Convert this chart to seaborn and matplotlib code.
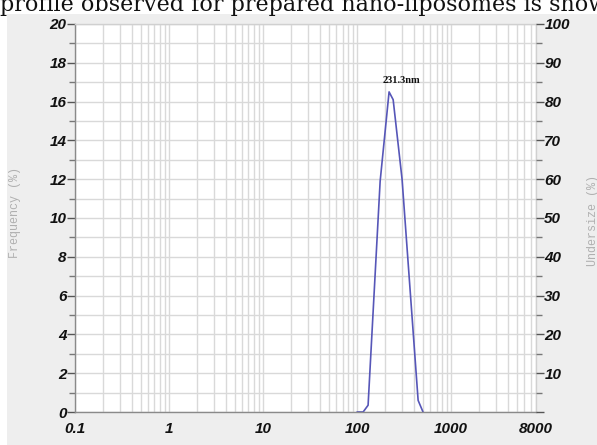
import matplotlib
matplotlib.use("Agg")
import matplotlib.pyplot as plt
from matplotlib.patches import Rectangle
from matplotlib.ticker import FixedLocator, LogLocator, NullFormatter
import pandas as pd
import seaborn as sns

# Size distribution (particle size in nm vs. frequency in %)
size_nm = [100, 116, 131, 176, 219, 242, 301, 446, 503]
frequency_pct = [0, 0, 0.35, 11.9, 16.5, 16.1, 12.0, 0.6, 0]

peak_label = "231.3nm"
peak_size = 231.3
peak_label_y = 17.1

x_major = [0.1, 1, 10, 100, 1000, 8000]
x_major_labels = ["0.1", "1", "10", "100", "1000", "8000"]
left_major = list(range(0, 21, 2))
left_minor = list(range(1, 20, 2))
right_major = list(range(0, 101, 10))
right_major_labels = [""] + [str(v) for v in range(10, 101, 10)]
right_minor = list(range(5, 100, 10))

caption = "profile observed for prepared nano-liposomes is shown"

sns.set_theme(style="white")
plt.rcParams["font.family"] = ["Liberation Sans", "DejaVu Sans"]

W, H = 597, 445
fig = plt.figure(figsize=(W / 100, H / 100), dpi=100)
fig.patch.set_facecolor("white")

# grey panel behind the instrument plot
fig.patches.append(Rectangle((7 / W, 0), 1 - 7 / W, 1 - 14 / H,
                             transform=fig.transFigure, facecolor="#eeeeee",
                             edgecolor="none", zorder=-5))

fig.text(0, 1 - 11 / H, caption, family="DejaVu Serif", fontsize=16,
         ha="left", va="baseline", color="#111111")

ax = fig.add_axes([75 / W, 1 - 412 / H, (536 - 75) / W, (412 - 24) / H])
ax.set_facecolor("white")

df = pd.DataFrame({"size": size_nm, "freq": frequency_pct})
sns.lineplot(data=df, x="size", y="freq", ax=ax, color="#5656b8",
             linewidth=1.2, sort=True, estimator=None)

ax.set_xscale("log")
ax.set_xlim(0.1, 8000)
ax.set_ylim(0, 20)
ax.set_xlabel("")
ax.set_ylabel("")

grid_col = "#d9d9d9"
ax.xaxis.set_major_locator(FixedLocator(x_major))
ax.xaxis.set_minor_locator(LogLocator(base=10, subs=range(2, 10), numticks=20))
ax.xaxis.set_minor_formatter(NullFormatter())
ax.set_xticklabels(x_major_labels, fontweight="bold", fontstyle="italic",
                   fontsize=11)
ax.yaxis.set_major_locator(FixedLocator(left_major))
ax.yaxis.set_minor_locator(FixedLocator(left_minor))
ax.set_yticklabels([str(v) for v in left_major], fontweight="bold",
                   fontstyle="italic", fontsize=11)

ax.grid(which="both", axis="both", color=grid_col, linewidth=1.0)
ax.set_axisbelow(True)

ax.tick_params(axis="x", which="major", direction="inout", length=8,
               color="#555555", width=1, pad=3, labelcolor="#111111")
ax.tick_params(axis="x", which="minor", direction="in", length=4,
               color="#666666", width=1)
ax.tick_params(axis="y", which="major", direction="out", length=6,
               color="#555555", width=1, pad=0, labelcolor="#111111")
ax.tick_params(axis="y", which="minor", direction="out", length=4,
               color="#777777", width=1)

for side in ("left", "bottom"):
    ax.spines[side].set_color("#8a8a8a")
    ax.spines[side].set_linewidth(1.0)
for side in ("top", "right"):
    ax.spines[side].set_color("#d0d0d0")
    ax.spines[side].set_linewidth(1.0)

ax2 = ax.twinx()
ax2.set_ylim(0, 100)
ax2.yaxis.set_major_locator(FixedLocator(right_major))
ax2.yaxis.set_minor_locator(FixedLocator(right_minor))
ax2.set_yticklabels(right_major_labels, fontweight="bold", fontstyle="italic",
                    fontsize=11)
ax2.tick_params(axis="y", which="major", direction="out", length=6,
                color="#555555", width=1, pad=0, labelcolor="#111111")
ax2.tick_params(axis="y", which="minor", direction="out", length=4,
                color="#777777", width=1)
for side in ("left", "bottom", "top", "right"):
    ax2.spines[side].set_visible(False)
ax2.grid(False)

ax.annotate(peak_label, xy=(peak_size, peak_label_y), xytext=(7.5, 0),
            textcoords="offset points", ha="center", va="center",
            family="Liberation Serif", fontweight="bold", fontsize=7.5,
            color="#111111")

fig.text(15 / W, 1 - 212 / H, "Frequency (%)", rotation=90,
         family="Liberation Mono", fontsize=8.5, color="#b0b0b0",
         ha="center", va="center")
fig.text(593 / W, 1 - 220 / H, "Undersize (%)", rotation=90,
         family="Liberation Mono", fontsize=8.5, color="#b0b0b0",
         ha="center", va="center")

fig.savefig("out.png", dpi=100, facecolor=fig.get_facecolor())
